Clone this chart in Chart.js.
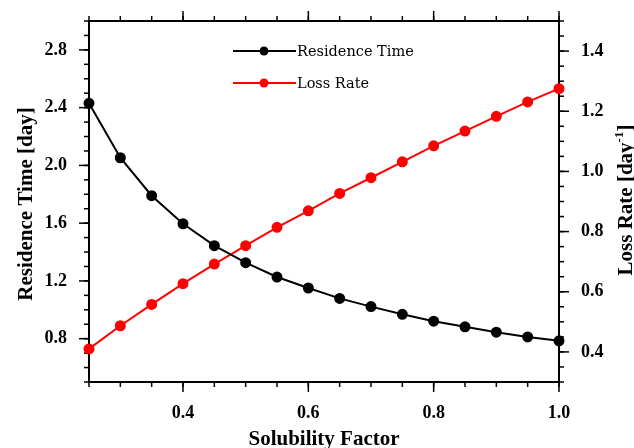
<!DOCTYPE html>
<html>
<head>
<meta charset="utf-8">
<script src="https://cdn.jsdelivr.net/npm/chart.js@4"></script>
<style>
  html, body { margin: 0; padding: 0; background: #fff; }
  canvas { display: block; }
</style>
</head>
<body>
<canvas id="chart" width="634" height="448"></canvas>
<script>
// solubility factor (x) and the two curves
const solubility = [0.25, 0.30, 0.35, 0.40, 0.45, 0.50, 0.55, 0.60, 0.65, 0.70, 0.75, 0.80, 0.85, 0.90, 0.95, 1.00];
const residenceTime = [2.43, 2.053, 1.79, 1.596, 1.444, 1.326, 1.227, 1.151, 1.079, 1.022, 0.969, 0.921, 0.882, 0.845, 0.812, 0.785];
const lossRate = [0.41, 0.487, 0.558, 0.627, 0.692, 0.753, 0.814, 0.869, 0.927, 0.979, 1.032, 1.085, 1.134, 1.183, 1.231, 1.275];

// labelled ticks
const xTicks = [0.4, 0.6, 0.8, 1.0];
const leftTicks = [0.8, 1.2, 1.6, 2.0, 2.4, 2.8];
const rightTicks = [0.4, 0.6, 0.8, 1.0, 1.2, 1.4];

const seriesNames = ["Residence Time", "Loss Rate"];

const SERIF = "'Liberation Serif', 'Times New Roman', serif";

const toPoints = (ys) => ys.map((y, i) => ({ x: solubility[i], y: y }));

// major / minor tick marks, all outward
function drawTicks(ctx, a, scale, vals, len, side) {
  vals.forEach((v) => {
    const p = scale.getPixelForValue(v);
    ctx.beginPath();
    if (side === "bottom") { ctx.moveTo(p, a.bottom); ctx.lineTo(p, a.bottom + len); }
    if (side === "top") { ctx.moveTo(p, a.top); ctx.lineTo(p, a.top - len); }
    if (side === "left") { ctx.moveTo(a.left, p); ctx.lineTo(a.left - len, p); }
    if (side === "right") { ctx.moveTo(a.right, p); ctx.lineTo(a.right + len, p); }
    ctx.stroke();
  });
}

function steps(min, max, step) {
  const out = [];
  for (let v = min; v <= max + 1e-9; v += step) out.push(Math.round(v * 1000) / 1000);
  return out;
}

const framePlugin = {
  id: "frame",
  beforeDatasetsDraw(chart) {
    const ctx = chart.ctx;
    const a = chart.chartArea;
    const sx = chart.scales.x, sy = chart.scales.y, sy1 = chart.scales.y1;
    ctx.save();
    ctx.strokeStyle = "#000";
    ctx.lineWidth = 1.5;
    const xMinor = steps(0.25, 1.0, 0.05);
    drawTicks(ctx, a, sx, xMinor, 5, "bottom");
    drawTicks(ctx, a, sx, xMinor, 5, "top");
    drawTicks(ctx, a, sx, xTicks, 10, "bottom");
    drawTicks(ctx, a, sx, xTicks, 10, "top");
    drawTicks(ctx, a, sy, steps(0.5, 3.0, 0.1), 5, "left");
    drawTicks(ctx, a, sy, leftTicks, 10, "left");
    drawTicks(ctx, a, sy1, steps(0.3, 1.5, 0.05), 5, "right");
    drawTicks(ctx, a, sy1, rightTicks, 10, "right");
    ctx.lineWidth = 2;
    ctx.strokeRect(a.left, a.top, a.right - a.left, a.bottom - a.top);
    ctx.restore();
  },
  afterDraw(chart) {
    const ctx = chart.ctx;
    const a = chart.chartArea;
    ctx.save();
    ctx.fillStyle = "#000";
    ctx.textAlign = "center";
    ctx.textBaseline = "alphabetic";

    // x title
    ctx.font = "bold 21px " + SERIF;
    ctx.fillText("Solubility Factor", (a.left + a.right) / 2, 445);

    // left title
    ctx.save();
    ctx.translate(32, 204);
    ctx.rotate(-Math.PI / 2);
    ctx.fillText("Residence Time [day]", 0, 0);
    ctx.restore();

    // right title with superscript
    ctx.save();
    ctx.translate(632, 200);
    ctx.rotate(-Math.PI / 2);
    const main = "Loss Rate [day";
    const sup = "-1";
    const close = "]";
    ctx.font = "bold 21px " + SERIF;
    const wMain = ctx.measureText(main).width;
    const wClose = ctx.measureText(close).width;
    ctx.font = "bold 13px " + SERIF;
    const wSup = ctx.measureText(sup).width;
    const x0 = -(wMain + wSup + wClose) / 2;
    ctx.textAlign = "left";
    ctx.font = "bold 21px " + SERIF;
    ctx.fillText(main, x0, 0);
    ctx.font = "bold 13px " + SERIF;
    ctx.fillText(sup, x0 + wMain, -9);
    ctx.font = "bold 21px " + SERIF;
    ctx.fillText(close, x0 + wMain + wSup, 0);
    ctx.restore();

    // legend inside the plot
    const rows = [51, 83];
    chart.data.datasets.forEach((ds, i) => {
      const y = rows[i];
      ctx.strokeStyle = ds.borderColor;
      ctx.lineWidth = 2;
      ctx.beginPath();
      ctx.moveTo(233, y);
      ctx.lineTo(296, y);
      ctx.stroke();
      ctx.fillStyle = ds.pointBackgroundColor;
      ctx.beginPath();
      ctx.arc(264, y, 4.5, 0, Math.PI * 2);
      ctx.fill();
      ctx.fillStyle = "#000";
      ctx.textAlign = "left";
      ctx.textBaseline = "middle";
      ctx.font = "14.5px 'DejaVu Serif', serif";
      ctx.fillText(ds.label, 297, y + 1);
    });
    ctx.restore();
  }
};

const tickFont = { family: SERIF, size: 18, weight: "bold" };

// fixed box sizes so the plot area sits at 89..559 x 21..382
const noPad = (s) => { s.paddingTop = 0; s.paddingBottom = 0; s.paddingLeft = 0; s.paddingRight = 0; };

const config = {
  type: "line",
  data: {
    datasets: [
      {
        label: seriesNames[0],
        data: toPoints(residenceTime),
        yAxisID: "y",
        borderColor: "#000",
        pointBackgroundColor: "#000",
        pointBorderColor: "#000",
        borderWidth: 2,
        pointRadius: 4.5,
        tension: 0,
        clip: false
      },
      {
        label: seriesNames[1],
        data: toPoints(lossRate),
        yAxisID: "y1",
        borderColor: "#ff0000",
        pointBackgroundColor: "#ff0000",
        pointBorderColor: "#ff0000",
        borderWidth: 2,
        pointRadius: 4.5,
        tension: 0,
        clip: false
      }
    ]
  },
  options: {
    responsive: false,
    animation: false,
    devicePixelRatio: 1,
    layout: { padding: { top: 21, left: 0, right: 0, bottom: 0 } },
    plugins: { legend: { display: false }, tooltip: { enabled: false } },
    scales: {
      x: {
        type: "linear",
        position: "bottom",
        min: 0.25,
        max: 1.0,
        grid: { display: false, drawTicks: false },
        border: { display: false },
        afterBuildTicks: (s) => { s.ticks = xTicks.map((v) => ({ value: v })); },
        afterFit: (s) => { s.height = 66; noPad(s); },
        ticks: { color: "#000", font: tickFont, padding: 21, maxRotation: 0, callback: (v) => v.toFixed(1) }
      },
      y: {
        type: "linear",
        position: "left",
        min: 0.5,
        max: 3.0,
        grid: { display: false, drawTicks: false },
        border: { display: false },
        afterBuildTicks: (s) => { s.ticks = leftTicks.map((v) => ({ value: v })); },
        afterFit: (s) => { s.width = 89; noPad(s); },
        ticks: { color: "#000", font: tickFont, padding: 22, callback: (v) => v.toFixed(1) }
      },
      y1: {
        type: "linear",
        position: "right",
        min: 0.3,
        max: 1.5,
        grid: { display: false, drawTicks: false },
        border: { display: false },
        afterBuildTicks: (s) => { s.ticks = rightTicks.map((v) => ({ value: v })); },
        afterFit: (s) => { s.width = 75; noPad(s); },
        ticks: { color: "#000", font: tickFont, padding: 22, callback: (v) => v.toFixed(1) }
      }
    }
  },
  plugins: [framePlugin]
};

new Chart(document.getElementById("chart"), config);
</script>
</body>
</html>
